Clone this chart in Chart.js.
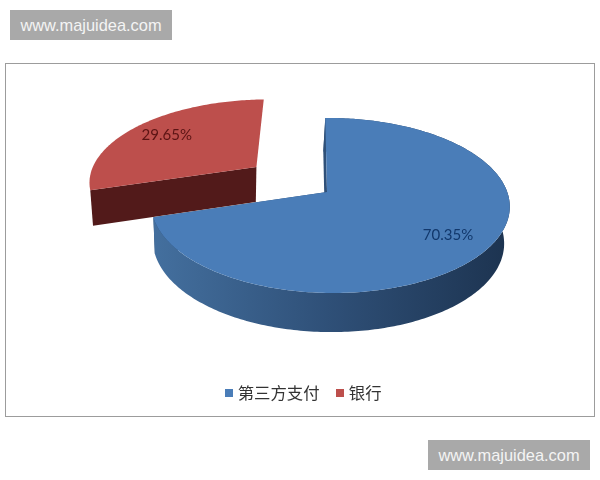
<!DOCTYPE html>
<html>
<head>
<meta charset="utf-8">
<style>
	html, body { margin: 0; padding: 0; background: #fff; }
	#wrap { position: relative; width: 600px; height: 480px; overflow: hidden; }
	#frame { position: absolute; left: 5px; top: 63px; width: 588px; height: 352px; border: 1.5px solid #9c9c9c; }
	.mark { position: absolute; width: 162px; height: 30px; background: #a9a9a9; color: #f4f4f4;
		font: 16.4px/30px "Liberation Sans", sans-serif; text-align: center; }
	canvas { position: absolute; left: 0; top: 0; }
</style>
<script src="https://cdn.jsdelivr.net/npm/chart.js@4/dist/chart.umd.min.js"></script>
</head>
<body>
<div id="wrap">
	<div id="frame"></div>
	<div class="mark" style="left:10px;top:10px">www.majuidea.com</div>
	<div class="mark" style="left:428px;top:440px">www.majuidea.com</div>
	<canvas id="pie" width="600" height="480"></canvas>
</div>
<script>
const categories = ['第三方支付', '银行'];
const shares = [70.35, 29.65];
const explodes = [0, 0.52];

const faceColors = ['#4a7db8', '#bd4f4c'];
const labelColors = ['#12386c', '#5c1414'];

// the tilted view: circle of the pie mapped to the page by a projective transform
const view = {
	x: 327, y: 192, a: 177, b: 85.4, p: -0.154, q: -0.018, shear: 2,
	depth: 36, bottomX: 325, bottomA: 0.98,
	labelRadius: [0.775, 0.75]
};

function project(u, v, bottom) {
	let w = 1 + view.p * v + view.q * u;
	let y = view.y + view.b * v / w;
	if (bottom) {
		return [view.bottomX + (view.a * view.bottomA * u + view.shear * v) / w, y + view.depth / Math.sqrt(w)];
	}
	return [view.x + (view.a * u + view.shear * v) / w, y];
}

let arcs = [];

function sliceMid(index) {
	return (arcs[index].startAngle + arcs[index].endAngle) / 2;
}

function slicePoint(angle, index, radius, bottom) {
	// chart.js angles start at 3 o'clock, on the unit circle that is just cos/sin
	let mid = sliceMid(index);
	let u = explodes[index] * Math.cos(mid) + radius * Math.cos(angle);
	let v = explodes[index] * Math.sin(mid) + radius * Math.sin(angle);
	return project(u, v, bottom);
}

function arcPoints(index, bottom) {
	let arc = arcs[index];
	let steps = Math.ceil((arc.endAngle - arc.startAngle) * 60);
	let points = [];
	for (let i = 0; i <= steps; i++) {
		let angle = arc.startAngle + (arc.endAngle - arc.startAngle) * i / steps;
		points.push(slicePoint(angle, index, 1, bottom));
	}
	return points;
}

function fillPath(ctx, points, color) {
	ctx.beginPath();
	points.forEach((p, i) => i ? ctx.lineTo(p[0], p[1]) : ctx.moveTo(p[0], p[1]));
	ctx.closePath();
	ctx.fillStyle = color;
	ctx.fill();
}

function wallColor(ctx, index) {
	if (index === 1) {
		return '#521a1a';
	}
	let shade = ctx.createLinearGradient(view.x - view.a, 0, view.x + view.a, 0);
	shade.addColorStop(0, '#44709f');
	shade.addColorStop(0.5, '#2f5078');
	shade.addColorStop(1, '#1d3451');
	return shade;
}

function drawSlice(ctx, index) {
	let top = arcPoints(index, false);
	let low = arcPoints(index, true);
	let apex = slicePoint(0, index, 0, false);
	let apexLow = slicePoint(0, index, 0, true);
	let wall = wallColor(ctx, index);
	let last = top.length - 1;

	fillPath(ctx, [apex, top[0], low[0], apexLow], wall);
	// the blue cut faces us a little, the red one does not
	if (index === 0) {
		fillPath(ctx, [apex, top[last], low[last], apexLow], '#2a4a72');
		fillPath(ctx, top.concat(low.slice().reverse()), wall);
	}
	fillPath(ctx, [apex].concat(top), faceColors[index]);
}

const tiltedPie = {
	id: 'tiltedPie',
	beforeDatasetDraw(chart) {
		let ctx = chart.ctx;
		arcs = chart.getDatasetMeta(0).data;
		ctx.save();
		// red goes behind the blue tip
		for (let i = arcs.length - 1; i >= 0; i--) {
			drawSlice(ctx, i);
		}
		ctx.font = '15px Lato, sans-serif';
		ctx.textAlign = 'center';
		ctx.textBaseline = 'middle';
		for (let i = 0; i < arcs.length; i++) {
			let p = slicePoint(sliceMid(i), i, view.labelRadius[i], false);
			ctx.fillStyle = labelColors[i];
			ctx.fillText(shares[i].toFixed(2) + '%', p[0], p[1]);
		}
		ctx.restore();
		return false;
	}
};

// square legend marker as an image, so the text can sit closer than boxWidth allows
function legendSquare(color) {
	let box = document.createElement('canvas');
	box.width = 8;
	box.height = 8;
	let boxCtx = box.getContext('2d');
	boxCtx.fillStyle = color;
	boxCtx.fillRect(0, 0, 8, 8);
	return box;
}

document.addEventListener('DOMContentLoaded', () => {
	new Chart(document.getElementById('pie').getContext('2d'), {
		type: 'pie',
		data: {
			labels: categories,
			datasets: [{
				data: shares,
				backgroundColor: faceColors,
				borderWidth: 0
			}]
		},
		options: {
			responsive: false,
			animation: false,
			layout: { padding: { left: 10, bottom: 69 } },
			plugins: {
				tooltip: { enabled: false },
				legend: {
					position: 'bottom',
					labels: {
						usePointStyle: true,
						pointStyleWidth: 1,
						boxHeight: 8,
						color: '#333',
						padding: 20,
						font: { family: '"Noto Sans CJK SC"', size: 16.4 },
						generateLabels(chart) {
							return categories.map((name, i) => ({
								text: name,
								index: i,
								fontColor: '#333',
								pointStyle: legendSquare(faceColors[i])
							}));
						}
					}
				}
			}
		},
		plugins: [tiltedPie]
	});
});
</script>
</body>
</html>
